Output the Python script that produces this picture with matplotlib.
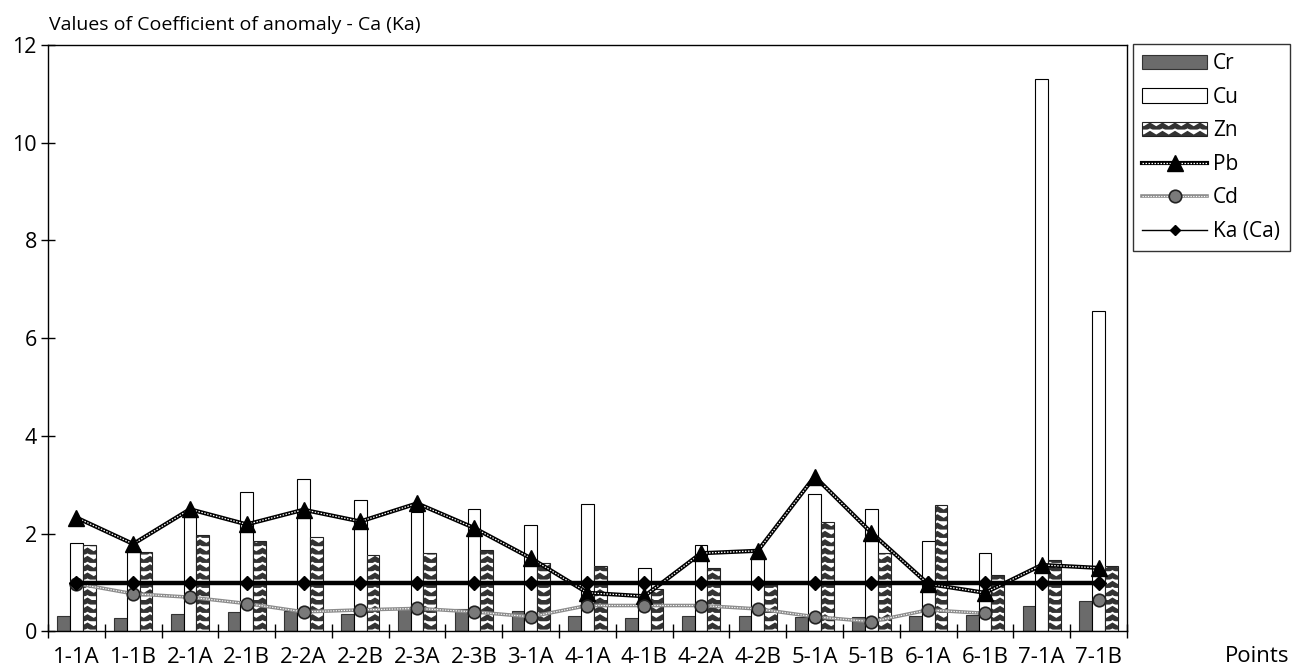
import warnings
import numpy as np
import matplotlib
matplotlib.use("Agg")
import matplotlib.pyplot as plt
from matplotlib import hatch as mhatch
from matplotlib.path import Path
from matplotlib.lines import Line2D
from matplotlib.patches import Patch
from matplotlib.legend_handler import HandlerTuple

warnings.filterwarnings("ignore")

points = ["1-1A", "1-1B", "2-1A", "2-1B", "2-2A", "2-2B", "2-3A", "2-3B", "3-1A",
          "4-1A", "4-1B", "4-2A", "4-2B", "5-1A", "5-1B", "6-1A", "6-1B", "7-1A", "7-1B"]
cr = [0.31, 0.28, 0.35, 0.39, 0.42, 0.36, 0.47, 0.45, 0.42,
      0.31, 0.28, 0.31, 0.31, 0.30, 0.29, 0.32, 0.34, 0.52, 0.62]
cu = [1.80, 1.68, 2.35, 2.85, 3.11, 2.68, 2.44, 2.51, 2.17,
      2.61, 1.29, 1.77, 1.53, 2.81, 2.51, 1.84, 1.60, 11.30, 6.56]
zn = [1.76, 1.63, 1.97, 1.84, 1.94, 1.56, 1.60, 1.67, 1.39,
      1.34, 0.86, 1.29, 0.97, 2.23, 1.60, 2.58, 1.15, 1.46, 1.33]
pb = [2.33, 1.79, 2.50, 2.19, 2.49, 2.25, 2.62, 2.12, 1.50,
      0.79, 0.72, 1.60, 1.65, 3.17, 2.02, 0.97, 0.79, 1.36, 1.30]
cd = [0.98, 0.77, 0.70, 0.57, 0.40, 0.44, 0.47, 0.40, 0.30,
      0.53, 0.53, 0.53, 0.46, 0.30, 0.20, 0.44, 0.37, np.nan, 0.64]
ka = [1.0] * len(points)
yticks = [0, 2, 4, 6, 8, 10, 12]


class ChevronHatch(mhatch.HatchPatternBase):
    """Rows of small 'v' zigzags, used with the hatch symbol 'v'."""
    def __init__(self, hatch, density):
        self.num_rows = int(hatch.count('v') * density)
        self.num_cols = 8
        self.num_vertices = self.num_rows * (2 * self.num_cols + 1)

    def set_vertices_and_codes(self, vertices, codes):
        per_row = 2 * self.num_cols + 1
        depth = 0.45 / self.num_rows
        for r in range(self.num_rows):
            y0 = r / self.num_rows
            i = r * per_row
            vertices[i] = (0.0, y0 + depth)
            codes[i] = Path.MOVETO
            for c in range(self.num_cols):
                vertices[i + 1 + 2 * c] = ((c + 0.5) / self.num_cols, y0)
                vertices[i + 2 + 2 * c] = ((c + 1.0) / self.num_cols, y0 + depth)
                codes[i + 1 + 2 * c] = Path.LINETO
                codes[i + 2 + 2 * c] = Path.LINETO


mhatch._hatch_types.append(ChevronHatch)

plt.rcParams['font.family'] = ['Open Sans', 'DejaVu Sans']
plt.rcParams['hatch.linewidth'] = 1.5

fig = plt.figure(figsize=(12.93, 6.72), dpi=100)
ax = fig.add_axes([0.0371, 0.0604, 0.8345, 0.8726])

x = np.arange(len(points))
w = 0.225
ax.bar(x - w, cr, w, color='#6b6b6b', edgecolor='#333333', linewidth=0.8, zorder=1)
ax.bar(x, cu, w, color='white', edgecolor='black', linewidth=0.8, zorder=1)
ax.bar(x + w, zn, w, color='#333333', edgecolor='white', linewidth=0, hatch='vv', zorder=1)
ax.bar(x + w, zn, w, fill=False, edgecolor='#222222', linewidth=0.8, zorder=1)

# Pb: black line with a white dotted core
pb_a, = ax.plot(x, pb, color='black', lw=3.0, zorder=3)
pb_b, = ax.plot(x, pb, color='white', lw=0.9, ls=(0, (1.2, 1.2)), zorder=3)
pb_m, = ax.plot(x, pb, ls='none', marker='^', ms=12, color='black', zorder=4)

# Cd: grey dotted line with grey circles
cd_a, = ax.plot(x, cd, color='#8c8c8c', lw=2.6, zorder=3)
cd_b, = ax.plot(x, cd, color='white', lw=0.8, ls=(0, (1.2, 1.2)), zorder=3)
cd_m, = ax.plot(x, cd, ls='none', marker='o', ms=9, mfc='#7a7a7a', mec='#222222',
                mew=1.2, zorder=4)

# Ka (Ca) reference line
ax.plot(x, ka, color='black', lw=3.2, marker='D', ms=7, zorder=5)

ax.set_xlim(-0.5, len(points) - 0.5)
ax.set_ylim(0, 12)
ax.set_yticks(yticks)
ax.set_xticks(np.arange(len(points) + 1) - 0.5)
ax.set_xticklabels([])
ax.set_xticks(x, minor=True)
ax.set_xticklabels(points, minor=True, fontsize=16)
ax.tick_params(axis='x', which='major', direction='inout', length=10, width=1)
ax.tick_params(axis='x', which='minor', length=0, pad=11)
ax.tick_params(axis='y', direction='inout', length=10, width=1, labelsize=15.5, pad=3)
for s in ax.spines.values():
    s.set_linewidth(1.0)
    s.set_color('black')

fig.text(49 / 1293, 1 - 30 / 672, "Values of Coefficient of anomaly - Ca (Ka)",
         fontsize=14, va='baseline', ha='left')
fig.text(1225 / 1293, 1 - 656 / 672, "Points", fontsize=16, va='center', ha='left')

cr_h = Patch(facecolor='#6b6b6b', edgecolor='#333333', linewidth=0.8)
cu_h = Patch(facecolor='white', edgecolor='black', linewidth=0.8)
zn_h = (Patch(facecolor='#333333', edgecolor='white', linewidth=0, hatch='vv'),
        Patch(fill=False, edgecolor='#222222', linewidth=0.8))
ka_h = Line2D([], [], color='black', lw=1.0, marker='D', ms=5)
leg = fig.legend([cr_h, cu_h, zn_h, (pb_a, pb_b, pb_m), (cd_a, cd_b, cd_m), ka_h],
                 ["Cr", "Cu", "Zn", "Pb", "Cd", "Ka (Ca)"],
                 handler_map={tuple: HandlerTuple(ndivide=1, pad=0)},
                 loc='upper left', bbox_to_anchor=(1133 / 1293, 1 - 44 / 672),
                 fontsize=15, frameon=True, fancybox=False, edgecolor='black',
                 handlelength=3.1, handletextpad=0.3, labelspacing=0.6,
                 borderpad=0.45, borderaxespad=0)
leg.get_frame().set_linewidth(1.0)

fig.savefig("out.png", dpi=100)
